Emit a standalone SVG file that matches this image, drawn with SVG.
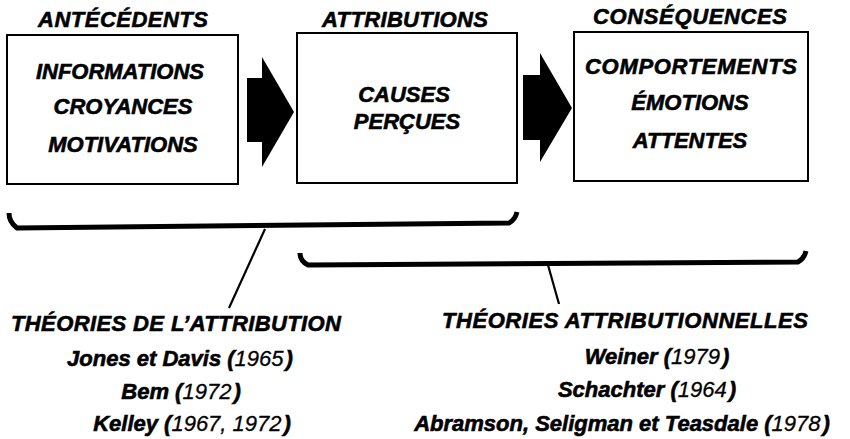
<svg xmlns="http://www.w3.org/2000/svg" width="850" height="439" viewBox="0 0 850 439">
<style>
text{font-family:"Liberation Sans",Arial,Helvetica,sans-serif;font-weight:bold;font-style:italic;font-size:22px;fill:#000;stroke:#000;stroke-width:0.6;text-anchor:middle}
.box{fill:#fff;stroke:#000;stroke-width:2}
.yr{font-weight:normal;stroke-width:0.3}
.br{fill:none;stroke:#000;stroke-width:5;stroke-linejoin:round}
.ln{fill:none;stroke:#000;stroke-width:2.2}
.arw{fill:#000}
</style>
<rect width="850" height="439" fill="#fff"/>
<g id="antecedents">
<text x="123" y="27" textLength="170">ANTÉCÉDENTS</text>
<rect class="box" x="7" y="35" width="231" height="149"/>
<text x="120" y="79" textLength="168">INFORMATIONS</text>
<text x="123" y="114">CROYANCES</text>
<text x="123" y="152">MOTIVATIONS</text>
</g>
<g id="attributions">
<text x="405" y="27" textLength="166">ATTRIBUTIONS</text>
<rect class="box" x="297" y="33" width="220" height="150"/>
<text x="404" y="102">CAUSES</text>
<text x="407" y="129">PERÇUES</text>
</g>
<g id="consequences">
<text x="690" y="24" textLength="194">CONSÉQUENCES</text>
<rect class="box" x="574" y="32" width="234" height="149"/>
<text x="691" y="74" textLength="212">COMPORTEMENTS</text>
<text x="690" y="110">ÉMOTIONS</text>
<text x="690" y="148">ATTENTES</text>
</g>
<g id="theories-attribution">
<text x="176" y="331" textLength="330">THÉORIES DE L’ATTRIBUTION</text>
<text x="180" y="366">Jones et Davis <tspan>(</tspan><tspan class="yr">1965</tspan><tspan dx="2">)</tspan></text>
<text x="181" y="399">Bem <tspan>(</tspan><tspan class="yr">1972</tspan><tspan dx="2">)</tspan></text>
<text x="192" y="431">Kelley <tspan>(</tspan><tspan class="yr">1967, 1972</tspan><tspan dx="2">)</tspan></text>
</g>
<g id="theories-attributionnelles">
<text x="625" y="328" textLength="366">THÉORIES ATTRIBUTIONNELLES</text>
<text x="657" y="364">Weiner <tspan>(</tspan><tspan class="yr">1979</tspan><tspan dx="2">)</tspan></text>
<text x="647" y="397">Schachter <tspan>(</tspan><tspan class="yr">1964</tspan><tspan dx="2">)</tspan></text>
<text x="622" y="431">Abramson, Seligman et Teasdale <tspan>(</tspan><tspan class="yr">1978</tspan><tspan dx="2">)</tspan></text>
</g>
<g id="connectors">
<polygon class="arw" points="247,78 262,78 262,57 294,112 262,167 262,142 247,142"/>
<polygon class="arw" points="523,75 540,75 540,53 572,108 540,162 540,140 523,140"/>
<path class="br" d="M9,213 Q9,222 17,228 L509,223 Q515,220 517,212"/>
<line class="ln" x1="265" y1="229" x2="229" y2="308"/>
<path class="br" d="M300,253 Q300,261 308,265 L798,262 Q804,259 806,251"/>
<line class="ln" x1="548" y1="265" x2="559" y2="304"/>
</g>
</svg>
